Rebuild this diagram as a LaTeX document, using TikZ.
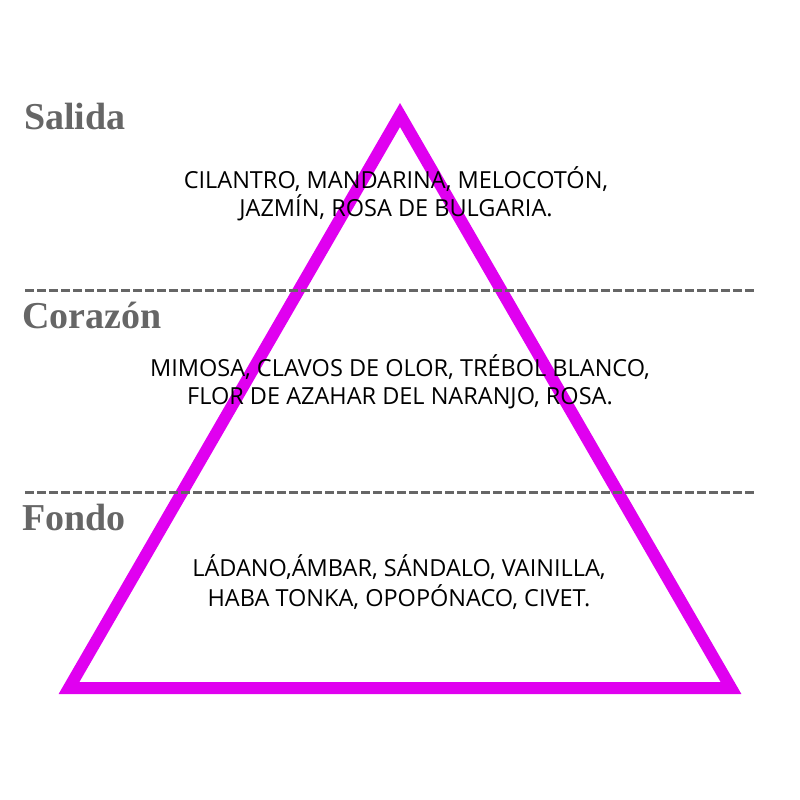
\documentclass[tikz,border=0pt]{standalone}
\usepackage{fontspec}
\setmainfont{Open Sans}
\newfontfamily\labelfont{Liberation Serif}
\definecolor{tri}{RGB}{224,0,240}
\definecolor{lab}{RGB}{102,102,102}
\begin{document}
\begin{tikzpicture}[x=1pt,y=-1pt,
  layer/.style={font=\labelfont\bfseries\fontsize{38}{40}\selectfont, text=lab, anchor=base west, inner sep=0pt},
  notes/.style={font=\fontsize{23.5}{28}\selectfont, text=black, anchor=base, inner sep=0pt},
  sep/.style={draw=lab, line width=3pt, dash pattern=on 9pt off 3pt}]
\useasboundingbox (0,0) rectangle (800,800);
\coordinate (A) at (400,115);
\coordinate (B) at (69,688);
\coordinate (C) at (731,688);
\draw[tri, line width=12pt, miter limit=10] (A) -- (B) -- (C) -- cycle;
\coordinate (s1a) at (25,290); \coordinate (s1b) at (756,290);
\coordinate (s2a) at (25,492); \coordinate (s2b) at (756,492);
\draw[sep] (s1a) -- (s1b);
\draw[sep] (s2a) -- (s2b);
\node[layer] (salida) at (24,129) {Salida};
\node[layer] (corazon) at (22,328) {Corazón};
\node[layer] (fondo) at (22,530) {Fondo};
\node[notes] (t1a) at (396,188) {CILANTRO, MANDARINA, MELOCOTÓN,};
\node[notes] (t1b) at (396,216) {JAZMÍN, ROSA DE BULGARIA.};
\node[notes] (t2a) at (400,376) {MIMOSA, CLAVOS DE OLOR, TRÉBOL BLANCO,};
\node[notes] (t2b) at (400,404) {FLOR DE AZAHAR DEL NARANJO, ROSA.};
\node[notes] (t3a) at (399,576) {LÁDANO,ÁMBAR, SÁNDALO, VAINILLA,};
\node[notes] (t3b) at (399,606) {HABA TONKA, OPOPÓNACO, CIVET.};
\end{tikzpicture}
\end{document}
